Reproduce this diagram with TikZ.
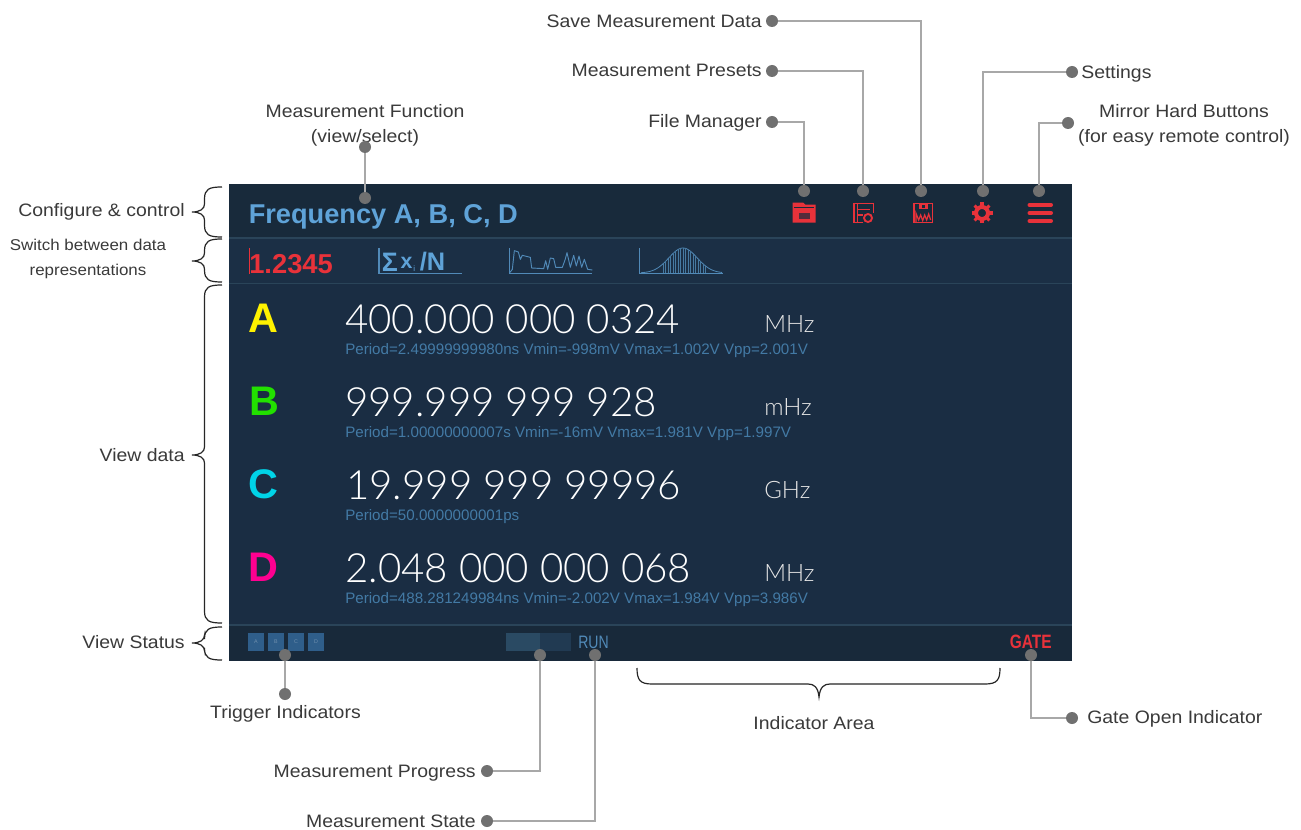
\documentclass[tikz,border=0pt]{standalone}
\usepackage{fontspec}
\usetikzlibrary{calc}
\setmainfont{Liberation Sans}
\newfontfamily\lightf{Lato Light}
\newfontfamily\lblf[FakeStretch=1.08]{Liberation Sans}
\definecolor{panelA}{HTML}{182A3B}
\definecolor{panelB}{HTML}{1B2F45}
\definecolor{panelC}{HTML}{1A2D43}
\definecolor{panelD}{HTML}{18293A}
\definecolor{sepc}{HTML}{2A4459}
\definecolor{redc}{HTML}{E8323A}
\definecolor{bluec}{HTML}{5FA3D8}
\definecolor{subc}{HTML}{437AA5}
\definecolor{lblc}{HTML}{3A3A3A}
\definecolor{dotc}{HTML}{707070}
\definecolor{linec}{HTML}{A8A8A8}
\definecolor{TrigC}{HTML}{2F5E8A}
\definecolor{ProgA}{HTML}{2A4A63}
\definecolor{ProgB}{HTML}{213A52}
\definecolor{chanC}{HTML}{00D4E8}
\definecolor{chanB}{HTML}{22E000}
\definecolor{chanD}{HTML}{FF0090}
\tikzset{
 lbl/.style={text=lblc,inner sep=0pt,align=center,font=\lblf\fontsize{13.5}{18.75}\selectfont},
 dotn/.style={circle,fill=dotc,minimum size=9pt,inner sep=0pt},
 conn/.style={draw=linec,line width=1.6pt},
 brc/.style={draw=black!85,line width=.9pt},
 big/.style={anchor=base west,inner sep=0pt,text=white,font=\lightf\fontsize{30.2}{30}\selectfont},
 unitt/.style={anchor=base west,inner sep=0pt,text=white!90!black,font=\lightf\fontsize{18}{18}\selectfont},
 subt/.style={anchor=base west,inner sep=0pt,text=subc,font=\fontsize{11.37}{11}\selectfont},
 chan/.style={anchor=base west,inner sep=0pt,font=\bfseries\fontsize{31}{31}\selectfont},
 trig/.style={fill=TrigC,draw=none,minimum width=12pt,minimum height=13.5pt,inner sep=0pt,text=TrigC!70!white,font=\fontsize{4}{4}\selectfont},
}
\newcommand{\lbrc}[3]{% top, mid, bottom
 \draw[brc] (222,#1) .. controls (209,#1) and (204.5,{#1+2}) .. (204.5,{#1+12}) -- (204.5,{#2-8}) .. controls (204.5,{#2-3}) and (200,#2) .. (192,#2) .. controls (200,#2) and (204.5,{#2+3}) .. (204.5,{#2+8}) -- (204.5,{#3-12}) .. controls (204.5,{#3-2}) and (209,#3) .. (222,#3);}
\newcommand{\gearat}[2]{% x y
 \draw[redc,line width=3pt] (#1,#2) circle (6);
 \foreach \a in {0,45,...,315}{\draw[redc,line width=2.3pt] ($(#1,#2)+(\a:7)$) -- ($(#1,#2)+(\a:10.5)$);}}
\begin{document}
\begin{tikzpicture}[x=0.75pt,y=-0.75pt]
\useasboundingbox (0,0) rectangle (1301,830);
\fill[white] (0,0) rectangle (1301,830);
% panel
\fill[panelA] (229,184) rectangle (1072,238);
\fill[panelB] (229,238) rectangle (1072,283);
\fill[panelC] (229,283) rectangle (1072,625);
\fill[panelD] (229,625) rectangle (1072,661);
\draw[sepc,line width=.8pt] (229,238) -- (1072,238);
\draw[sepc,line width=.6pt] (229,283) -- (1072,283);
\draw[sepc,line width=.8pt] (229,625) -- (1072,625);
% header
\node[anchor=base west,inner sep=0pt,text=bluec,font=\bfseries\fontsize{20.4}{20}\selectfont] (title) at (248.5,224) {Frequency A, B, C, D};
% top icons
\begin{scope}[shift={(770,170)},x=.25pt,y=-.25pt]
 % folder
 \fill[redc] (68,98) -- (100,98) -- (106,104) -- (137,104) -- (137,158) -- (68,158) -- cycle;
 \fill[panelA] (72,112) rectangle (133,115);
 \fill[panelA!70!redc] (86,130) rectangle (120,146);
 % presets
 \draw[redc,line width=1pt] (252,100) rectangle (310,157);
 \draw[redc,line width=.8pt] (262,100) -- (262,157) (262,118) -- (300,118) (262,135) -- (285,135);
 \fill[panelA] (280,130) rectangle (315,162);
 \draw[redc,line width=1.4pt] (294,144) circle (12);
 \draw[redc,line width=1pt] (252,157) -- (280,157) (310,100) -- (310,128);
 % save
 \draw[redc,line width=1pt] (432,100) rectangle (487,157);
 \fill[redc] (448,100) rectangle (475,118);
 \fill[panelA] (456,104) rectangle (464,114);
 \draw[redc,line width=.9pt] (438,157) -- (438,130) -- (446,150) -- (452,135) -- (458,152) -- (464,135) -- (470,150) -- (476,132) -- (482,150);
\end{scope}
\gearat{982}{213}
\foreach \yy in {205,213,221}{\draw[redc,line width=3pt,line cap=round] (1029.5,\yy) -- (1051,\yy);}
% row 2
\draw[redc,line width=.5pt] (249,248) -- (249,274);
\node[anchor=base west,inner sep=0pt,text=redc,font=\bfseries\fontsize{20.5}{21}\selectfont] (rep) at (249,274) {1.2345};
\begin{scope}[shift={(229,180)},x=.25pt,y=-.25pt]
 \draw[bluec!85!black,line width=.8pt] (450,205) -- (450,280) -- (700,280);
 \node[anchor=base west,inner sep=0pt,text=bluec,font=\bfseries\fontsize{20}{20}\selectfont] (sig) at (458,276) {Σ};
 \node[anchor=base west,inner sep=0pt,text=bluec,font=\bfseries\fontsize{16}{16}\selectfont] (sx) at (514,265) {x};
 \node[anchor=base west,inner sep=0pt,text=bluec,font=\fontsize{6}{6}\selectfont] (si) at (552,276) {i};
 \node[anchor=base west,inner sep=0pt,text=bluec,font=\bfseries\fontsize{19}{19}\selectfont] (sn) at (572,272) {/N};
 \draw[bluec!85!black,line width=.7pt] (840,205) -- (840,280) -- (1090,280);
 \draw[bluec!85!black,line width=.7pt,line join=round] (842,278) -- (850,268) -- (856,212) -- (868,216) -- (874,238) -- (880,226) -- (904,232) -- (908,264) -- (944,266) -- (950,242) -- (956,268) -- (964,234) -- (974,236) -- (980,262) -- (1000,262) -- (1008,240) -- (1014,218) -- (1024,262) -- (1034,226) -- (1042,258) -- (1050,228) -- (1058,262) -- (1066,238) -- (1076,268) -- (1090,270);
 \draw[bluec!85!black,line width=.7pt] (1232,205) -- (1232,280) -- (1482,280);
\end{scope}
\draw[bluec!85!black,line width=.6pt,smooth] plot[domain=641:722,samples=50] (\x,{273-25*exp(-((\x-683)/20)^2)});
\foreach \xx in {663,665.5,...,706}{\draw[bluec!75!black,line width=.35pt] (\xx,273) -- (\xx,{273-25*exp(-((\xx-683)/20)^2)});}
% data rows
\node[chan,text=yellow] (la) at (248,332.5) {A};
\node[chan,text=chanB] (lb) at (249,415.5) {B};
\node[chan,text=chanC] (lc) at (248,498.5) {C};
\node[chan,text=chanD] (ld) at (248,581.5) {D};
\node[big] (va) at (345,333) {400.000 000 0324};
\node[big] (vb) at (345,416) {999.999 999 928};
\node[big] (vc) at (346,499) {19.999 999 99996};
\node[big] (vd) at (345,582) {2.048 000 000 068};
\node[unitt] (ua) at (764,332) {MHz};
\node[unitt] (ub) at (764,415) {mHz};
\node[unitt] (uc) at (764,498) {GHz};
\node[unitt] (ud) at (764,581) {MHz};
\node[subt] (sa) at (345,354) {Period=2.49999999980ns Vmin=-998mV Vmax=1.002V Vpp=2.001V};
\node[subt] (sb) at (345,437) {Period=1.00000000007s Vmin=-16mV Vmax=1.981V Vpp=1.997V};
\node[subt] (sc) at (345,520) {Period=50.0000000001ps};
\node[subt] (sd) at (345,603) {Period=488.281249984ns Vmin=-2.002V Vmax=1.984V Vpp=3.986V};
% status
\node[trig] (ta) at (256,642) {A};
\node[trig] (tb) at (276,642) {B};
\node[trig] (tc) at (296,642) {C};
\node[trig] (td) at (316,642) {D};
\fill[ProgA] (506,633) rectangle (540,651);
\fill[ProgB] (540,633) rectangle (571,651);
\node[anchor=base west,inner sep=0pt,text=bluec!85!black] (run) at (578,648) {\fontsize{13.5}{14}\selectfont\scalebox{.78}[1]{RUN}};
\node[anchor=base east,inner sep=0pt,text=redc] (gate) at (1052,648) {\bfseries\fontsize{14.5}{15}\selectfont\scalebox{.8}[1]{GATE}};
% labels
\node[lbl,anchor=east] (save) at (762,21) {Save Measurement Data};
\node[lbl,anchor=east] (pres) at (762,70) {Measurement Presets};
\node[lbl,anchor=east] (file) at (762,122.5) {File Manager};
\node[lbl,anchor=west] (sett) at (1081,74) {Settings};
\node[lbl] (mirr) at (1184,125) {Mirror Hard Buttons\\(for easy remote control)};
\node[lbl] (func) at (365,125) {Measurement Function\\(view/select)};
\node[lbl,anchor=east] (conf) at (185,211.5) {Configure \& control};
\node[lbl,font=\lblf\fontsize{11.75}{18.75}\selectfont] (swit) at (88,258.5) {Switch between data\\representations};
\node[lbl,anchor=east] (view) at (185,455) {View data};
\node[lbl,anchor=east] (stat) at (185,642.5) {View Status};
\node[lbl] (trli) at (285.5,713.5) {Trigger Indicators};
\node[lbl] (inda) at (814,723.5) {Indicator Area};
\node[lbl,anchor=west] (gati) at (1087,718.5) {Gate Open Indicator};
\node[lbl,anchor=east] (prog) at (476,773) {Measurement Progress};
\node[lbl,anchor=east] (msta) at (476,821) {Measurement State};
% braces
\lbrc{187}{212}{237}
\lbrc{239}{261}{282}
\lbrc{285}{455}{623}
\lbrc{627}{643}{660}
\draw[brc] (637,668) .. controls (637,680) and (640,684) .. (652,684) -- (808,684) .. controls (814,684) and (818,687) .. (819,697) .. controls (820,687) and (824,684) .. (830,684) -- (985,684) .. controls (997,684) and (1000,680) .. (1000,668);
% dots
\node[dotn] (d1a) at (365,147) {};
\node[dotn] (d1b) at (365,198) {};
\node[dotn] (d2a) at (772,122) {};
\node[dotn] (d2b) at (804,191) {};
\node[dotn] (d3a) at (772,71) {};
\node[dotn] (d3b) at (863,191) {};
\node[dotn] (d4a) at (772,21) {};
\node[dotn] (d4b) at (921,191) {};
\node[dotn] (d5a) at (1072,72) {};
\node[dotn] (d5b) at (983,191) {};
\node[dotn] (d6a) at (1068,123) {};
\node[dotn] (d6b) at (1039,191) {};
\node[dotn] (d7a) at (285,655) {};
\node[dotn] (d7b) at (285,694) {};
\node[dotn] (d8a) at (540,655) {};
\node[dotn] (d8b) at (487,771) {};
\node[dotn] (d9a) at (595,655) {};
\node[dotn] (d9b) at (487,821) {};
\node[dotn] (dAa) at (1031,655) {};
\node[dotn] (dAb) at (1072,718) {};
% connectors
\draw[conn] (d1a) -- (d1b);
\draw[conn] (d2a) -| (d2b);
\draw[conn] (d3a) -| (d3b);
\draw[conn] (d4a) -| (d4b);
\draw[conn] (d5b) |- (d5a);
\draw[conn] (d6b) |- (d6a);
\draw[conn] (d7a) -- (d7b);
\draw[conn] (d8a) |- (d8b);
\draw[conn] (d9a) |- (d9b);
\draw[conn] (dAa) |- (dAb);
\end{tikzpicture}
\end{document}
